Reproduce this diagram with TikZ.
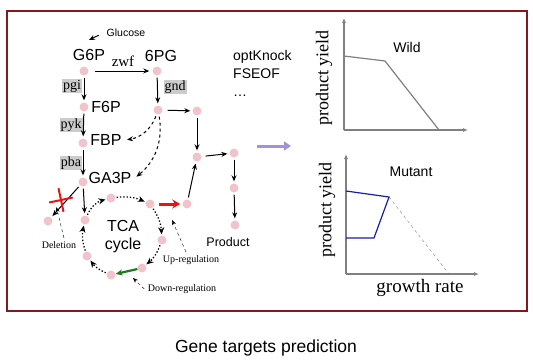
\documentclass[tikz,border=0pt]{standalone}
\usepackage{fontspec}
\setmainfont{Liberation Serif}
\setsansfont{Liberation Sans}
\usetikzlibrary{arrows.meta, shapes.misc}
\definecolor{framered}{RGB}{130,25,30}
\definecolor{dotpink}{RGB}{240,196,202}
\definecolor{mutblue}{RGB}{25,30,170}
\definecolor{upred}{RGB}{232,20,20}
\definecolor{downgreen}{RGB}{30,120,30}
\definecolor{arrowviolet}{RGB}{165,145,215}

\begin{document}
\begin{tikzpicture}[x=1pt, y=-1pt,
    dot/.style={circle, fill=dotpink, inner sep=0pt, minimum size=9pt},
    met/.style={font=\sffamily\fontsize{16}{18}\selectfont},
    enz/.style={fill=gray!40, inner sep=1pt, font=\fontsize{14}{16}\selectfont},
    note/.style={font=\fontsize{10}{12}\selectfont},
    flux/.style={-{Stealth[length=6pt,width=5pt]}, line width=1pt, shorten <=2pt, shorten >=2pt},
    cyc/.style={-{Stealth[length=7pt,width=6pt]}, line width=1.3pt, dotted, shorten <=1pt, shorten >=1pt},
    hint/.style={-{Stealth[length=5pt,width=4pt]}, dashed},
    plotaxis/.style={-{Latex[length=5pt,width=4pt]}, gray, line width=1.2pt},
    ylab/.style={rotate=90, font=\fontsize{18}{20}\selectfont}]
    \useasboundingbox (0,0) rectangle (533,360);
    \draw[framered, line width=1.6pt] (7,11) rectangle (527,311);

    % glycolysis and pentose phosphate
    \node[dot] (g6p) at (84,71) {};
    \node[dot] (pg6) at (157,71) {};
    \node[dot] (f6p) at (84,107) {};
    \node[dot] (fbp) at (83,143) {};
    \node[dot] (ga3p) at (83,182) {};
    \node[dot] (ru5p) at (158,110) {};
    \node[dot] (x5p) at (197,111) {};
    \node[dot] (s7p) at (197,157) {};
    \node[dot] (e4p) at (234,153) {};
    \node[dot] (pre) at (234,188) {};
    \node[dot] (prod) at (235,225) {};
    \node[dot] (tgt) at (187,204) {};
    \node[dot] (del) at (48,221) {};

    \node[met] (g6plab) at (89,55) {G6P};
    \node[met] (pg6lab) at (161,56) {6PG};
    \node[met] (f6plab) at (106,107) {F6P};
    \node[met] (fbplab) at (106,140) {FBP};
    \node[met] (ga3plab) at (110,178) {GA3P};
    \node[font=\sffamily\fontsize{12.5}{14}\selectfont] (prodlab) at (228,242) {Product};
    \node[font=\sffamily\fontsize{10.5}{12}\selectfont] (glc) at (126,33) {Glucose};
    \coordinate (glcin) at (89,40);
    \draw[flux, shorten <=5pt, shorten >=0pt] (glc.west) -- (glcin);

    \node[font=\fontsize{15}{16}\selectfont] (zwf) at (123,61) {zwf};
    \node[enz] (pgi) at (72,86) {pgi};
    \node[enz] (gnd) at (175,87) {gnd};
    \node[enz] (pyk) at (71,125) {pyk};
    \node[enz] (pba) at (71,163) {pba};

    \draw[flux, shorten <=6pt, shorten >=3pt] (g6p) -- (pg6);
    \draw[flux] (g6p) -- (f6p);
    \draw[flux] (pg6) -- (ru5p);
    \draw[flux] (f6p) -- (fbp);
    \draw[flux] (fbp) -- (ga3p);
    \draw[flux, shorten <=5pt] (ru5p) -- (x5p);
    \draw[flux] (x5p) -- (s7p);
    \draw[flux, shorten <=4pt] (s7p) -- (e4p);
    \draw[flux] (e4p) -- (pre);
    \draw[flux] (pre) -- (prod);
    \draw[flux] (tgt) -- (s7p);
    \draw[flux, dashed] (ru5p) to[bend left=30] (fbplab.east);
    \draw[flux, dashed] (ru5p) to[bend left=30] (ga3plab.east);

    % TCA cycle
    \node[dot] (c1) at (111,198) {};
    \node[dot] (c2) at (150,204) {};
    \node[dot] (c3) at (162,240) {};
    \node[dot] (c4) at (142,268) {};
    \node[dot] (c5) at (111,275) {};
    \node[dot] (c6) at (87,256) {};
    \node[dot] (c7) at (85,220) {};
    \node[met, align=center] (tca) at (123,237) {TCA\\cycle};

    \draw[flux] (ga3p) -- (c7);
    \draw[flux] (ga3p) -- (del);
    \draw[cyc] (c7) to[bend left=25] (c1);
    \draw[cyc] (c1) to[bend left=15] (c2);
    \draw[cyc] (c2) to[bend left=15] (c3);
    \draw[cyc] (c3) to[bend left=15] (c4);
    \draw[-{Stealth[length=7pt,width=6pt]}, downgreen, line width=2.2pt] (c4) -- (c5);
    \draw[cyc] (c5) to[bend left=15] (c6);
    \draw[cyc] (c6) to[bend left=15] (c7);
    \draw[-{Stealth[length=8pt,width=9pt]}, upred, line width=3pt, shorten <=4pt, shorten >=2pt] (c2) -- (tgt);

    \node[cross out, draw=upred, line width=2pt, minimum size=15pt, inner sep=0pt, rotate=-33] (ko) at (61,200) {};
    \node[note] (dellab) at (59,245) {Deletion};
    \node[note] (uplab) at (191,260) {Up-regulation};
    \node[note] (downlab) at (182,289) {Down-regulation};
    \coordinate (uptip) at (172,220);
    \coordinate (downtip) at (133,278);
    \draw[hint] ([xshift=5pt]dellab.north) -- (ko.south);
    \draw[hint] ([xshift=-5pt]uplab.north) -- (uptip);
    \draw[hint] (downlab.west) -- (downtip);

    % methods
    \node[font=\sffamily\fontsize{14}{18}\selectfont, align=left, anchor=north west, inner sep=0pt] (tools) at (233,50) {optKnock\\FSEOF\\\dots};
    \coordinate (pa) at (257,146);
    \coordinate (pb) at (291,146);
    \draw[-{Triangle[length=7pt,width=9pt]}, arrowviolet, line width=3pt] (pa) -- (pb);

    % wild type envelope
    \draw[plotaxis] (344,130) -- (344,18);
    \draw[plotaxis] (344,130) -- (468,130);
    \draw[gray, line width=1.2pt] (344,56) -- (385,61) -- (439,130);
    \node[font=\sffamily\fontsize{14}{16}\selectfont] (wild) at (407,47) {Wild};
    \node[ylab] (ywild) at (324,78) {product yield};

    % mutant envelope
    \draw[plotaxis] (346,274) -- (346,154);
    \draw[plotaxis] (346,274) -- (479,274);
    \draw[gray, dashed] (389,197) -- (449,274);
    \draw[mutblue, line width=1.2pt] (346,191) -- (389,197) -- (374,238) -- (346,238);
    \node[font=\sffamily\fontsize{14}{16}\selectfont] (mut) at (411,172) {Mutant};
    \node[ylab] (ymut) at (327,210) {product yield};
    \node[font=\fontsize{19}{22}\selectfont] (xmut) at (420,288) {growth rate};

    \node[font=\sffamily\fontsize{17.5}{20}\selectfont] (title) at (266,348) {Gene targets prediction};
\end{tikzpicture}
\end{document}
